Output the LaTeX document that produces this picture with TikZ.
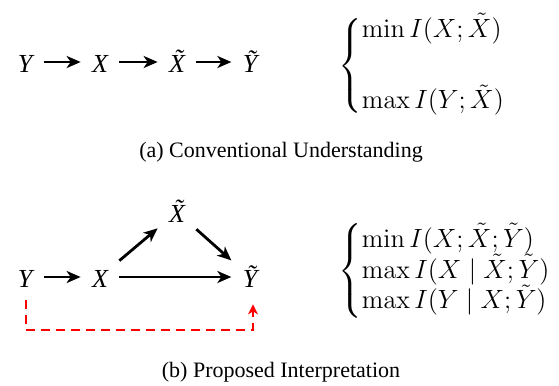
\documentclass[tikz,border=0pt]{standalone}
\usepackage{amsmath}
\usepackage[no-math]{fontspec}
\setmainfont{Liberation Serif}
\usetikzlibrary{arrows.meta}

\begin{document}
\begin{tikzpicture}[x=0.5pt,y=0.5pt,yscale=-1,xscale=1,
  var/.style={inner sep=5.5pt,text height=11pt,text depth=1pt,font=\fontsize{13}{15}\selectfont\itshape},
  flow/.style={line width=1.4pt,-{Stealth[length=7pt,width=6pt,inset=2pt]}},
  back/.style={line width=1.3pt,color=red,dash pattern=on 4.5pt off 3pt,-{Stealth[length=5pt,width=5pt,inset=1.5pt]}},
  caption/.style={inner sep=0pt,font=\fontsize{11}{13}\selectfont},
  goal/.style={anchor=west,inner sep=0pt,font=\fontsize{12.5}{12.5}\selectfont}]
\useasboundingbox (0,0) rectangle (559,386);

% Text Node
\node [var] (ya) at (25,62) {Y};
\node [var] (xa) at (100,62) {X};
\node [var] (xta) at (177,62) {\~X};
\node [var] (yta) at (250,62) {\~Y};
%Straight Lines
\draw [flow] (ya) -- (xa);
\draw [flow] (xa) -- (xta);
\draw [flow] (xta) -- (yta);
% Text Node
\node [goal] (goala) at (338,66) {\scalebox{1.1}{$\begin{cases}\min I(X;\tilde{X})\\[1.35em]\max I(Y;\tilde{X})\end{cases}$}};
\node [caption] (capa) at (281,152) {(a) Conventional Understanding};

% Text Node
\node [var] (xtb) at (177,212) {\~X};
\node [var] (yb) at (25,277) {Y};
\node [var] (xb) at (100,277) {X};
\node [var] (ytb) at (250,277) {\~Y};
\coordinate (cyb) at (26,330);
\coordinate (cytb) at (253,330);
%Straight Lines
\draw [flow] (yb) -- (xb);
\draw [flow] (xb) -- (ytb);
\draw [flow] (xb) -- (xtb);
\draw [flow] (xtb) -- (ytb);
\draw [back,shorten >=2pt] (yb.south -| cyb) -- (cyb) -- (cytb) -- (ytb.south -| cytb);
% Text Node
\node [goal] (goalb) at (338,271) {\scalebox{1.1}{$\begin{cases}\min I(X;\tilde{X};\tilde{Y})\\[-1.5pt]\max I(X\mid\tilde{X};\tilde{Y})\\[-1.5pt]\max I(Y\mid X;\tilde{Y})\end{cases}$}};
\node [caption] (capb) at (281,372) {(b) Proposed Interpretation};
\end{tikzpicture}
\end{document}
